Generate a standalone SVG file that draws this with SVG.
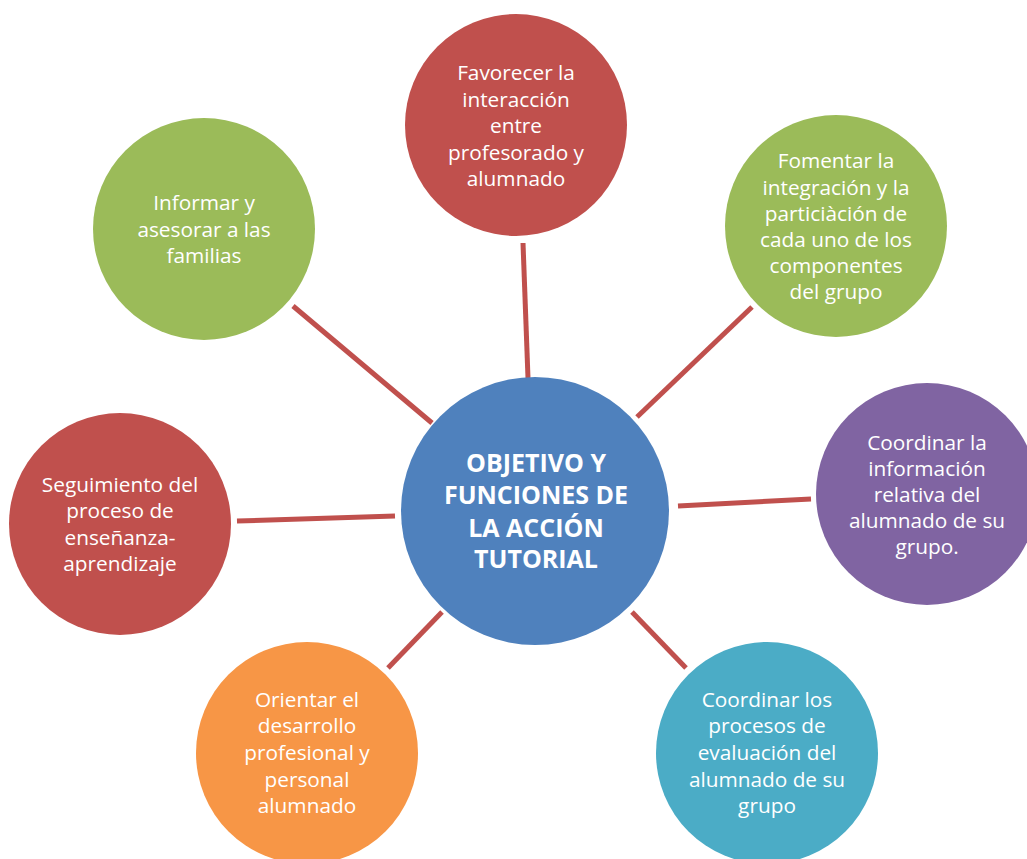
<svg xmlns="http://www.w3.org/2000/svg" width="1027" height="859" viewBox="0 0 1027 859">
<style>
.t{font-family:"Open Sans","Liberation Sans",sans-serif;font-size:20.8px;fill:#fff;text-anchor:middle}
.c{font-family:"Open Sans","Liberation Sans",sans-serif;font-size:25px;font-weight:bold;fill:#fff;text-anchor:middle}
.ln{stroke:#C0504D;stroke-width:5;fill:none}
</style>
<rect width="1027" height="859" fill="#fff"/>
<g id="connectors">
<line class="ln" x1="523" y1="243" x2="528" y2="378"/>
<line class="ln" x1="293" y1="306" x2="432" y2="423"/>
<line class="ln" x1="752" y1="307" x2="637" y2="417"/>
<line class="ln" x1="678" y1="506" x2="811" y2="499"/>
<line class="ln" x1="237" y1="521" x2="395" y2="516"/>
<line class="ln" x1="442" y1="612" x2="388" y2="668"/>
<line class="ln" x1="632" y1="612" x2="686" y2="668"/>
</g>
<g id="center">
<circle cx="535" cy="511" r="134" fill="#4F81BD"/>
<text class="c" x="536" y="472">OBJETIVO Y</text>
<text class="c" x="536" y="504">FUNCIONES DE</text>
<text class="c" x="536" y="537">LA ACCIÓN</text>
<text class="c" x="536" y="568">TUTORIAL</text>
</g>
<g id="n-top">
<circle cx="516" cy="125" r="111" fill="#C0504D"/>
<text class="t" x="516" y="80">Favorecer la</text>
<text class="t" x="516" y="107">interacción</text>
<text class="t" x="516" y="133">entre</text>
<text class="t" x="516" y="160">profesorado y</text>
<text class="t" x="516" y="186">alumnado</text>
</g>
<g id="n-topleft">
<circle cx="204" cy="229" r="111" fill="#9BBB59"/>
<text class="t" x="204" y="210">Informar y</text>
<text class="t" x="204" y="237">asesorar a las</text>
<text class="t" x="204" y="263">familias</text>
</g>
<g id="n-topright">
<circle cx="836" cy="226" r="111" fill="#9BBB59"/>
<text class="t" x="836" y="168">Fomentar la</text>
<text class="t" x="836" y="195">integración y la</text>
<text class="t" x="836" y="221">particiàción de</text>
<text class="t" x="836" y="247">cada uno de los</text>
<text class="t" x="836" y="273">componentes</text>
<text class="t" x="836" y="299">del grupo</text>
</g>
<g id="n-right">
<circle cx="927" cy="494" r="111" fill="#8064A2"/>
<text class="t" x="927" y="450">Coordinar la</text>
<text class="t" x="927" y="476">información</text>
<text class="t" x="927" y="502">relativa del</text>
<text class="t" x="927" y="528">alumnado de su</text>
<text class="t" x="927" y="554">grupo.</text>
</g>
<g id="n-left">
<circle cx="120" cy="524" r="111" fill="#C0504D"/>
<text class="t" x="120" y="492">Seguimiento del</text>
<text class="t" x="120" y="518">proceso de</text>
<text class="t" x="120" y="545">enseñanza-</text>
<text class="t" x="120" y="571">aprendizaje</text>
</g>
<g id="n-bottomleft">
<circle cx="307" cy="753" r="111" fill="#F79646"/>
<text class="t" x="307" y="707">Orientar el</text>
<text class="t" x="307" y="733">desarrollo</text>
<text class="t" x="307" y="760">profesional y</text>
<text class="t" x="307" y="787">personal</text>
<text class="t" x="307" y="813">alumnado</text>
</g>
<g id="n-bottomright">
<circle cx="767" cy="753" r="111" fill="#4BACC6"/>
<text class="t" x="767" y="707">Coordinar los</text>
<text class="t" x="767" y="733">procesos de</text>
<text class="t" x="767" y="760">evaluación del</text>
<text class="t" x="767" y="787">alumnado de su</text>
<text class="t" x="767" y="813">grupo</text>
</g>
</svg>
